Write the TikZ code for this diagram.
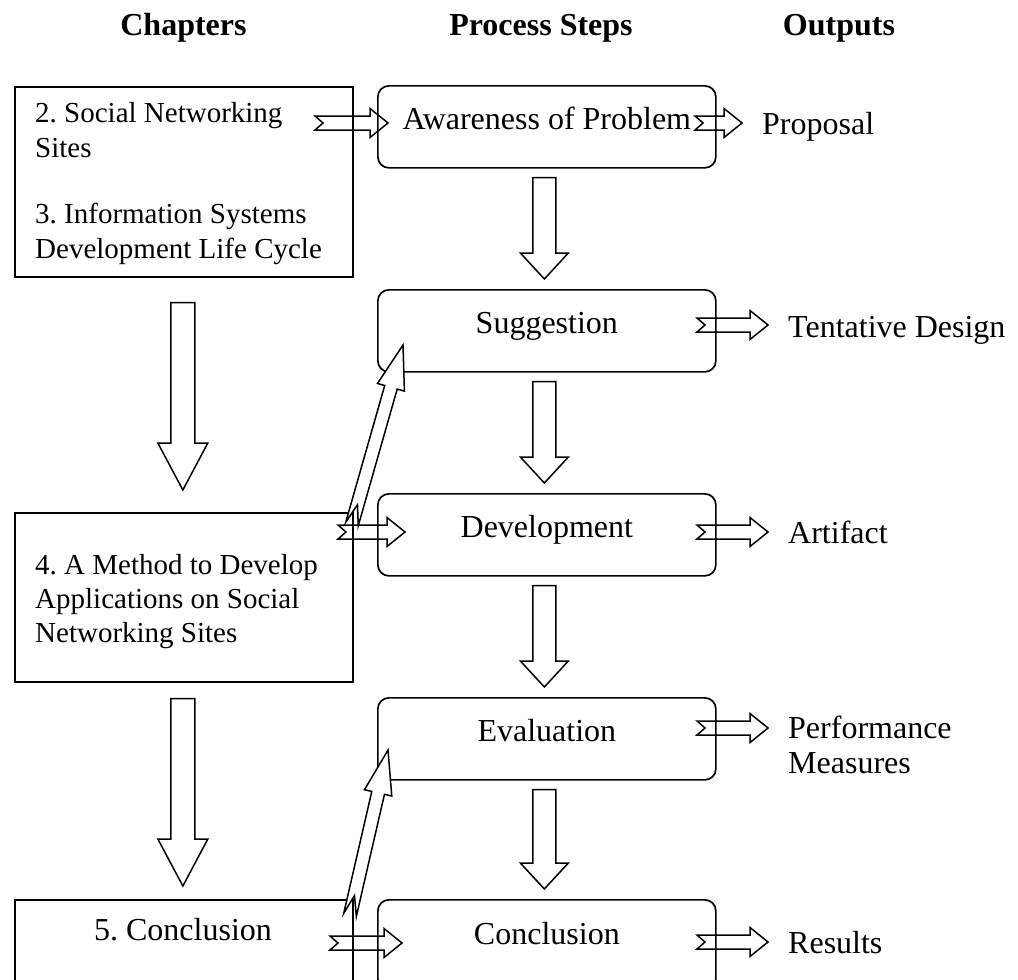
\documentclass[tikz,border=0pt]{standalone}
\usepackage{fontspec}
\setmainfont{Liberation Serif}
\usetikzlibrary{calc}
\frenchspacing

\pgfdeclarelayer{back}
\pgfsetlayers{back,main}

\tikzset{
  boxline/.style={line width=1.7pt},
  chapbox/.style={boxline, draw, rectangle, inner sep=0pt, anchor=north west, minimum width=338pt},
  stepbox/.style={boxline, draw, rectangle, rounded corners=11pt, inner sep=0pt, anchor=north west,
                  minimum width=338pt, minimum height=82pt},
  head/.style={anchor=base, font=\fontsize{32}{38}\selectfont\bfseries},
  chaptext/.style={anchor=base west, inner sep=0pt, font=\fontsize{29}{35}\selectfont},
  bigtext/.style={anchor=base, inner sep=0pt, font=\fontsize{32}{38}\selectfont},
  outtext/.style={anchor=base west, inner sep=0pt, font=\fontsize{32}{38}\selectfont},
  arrowline/.style={draw, fill=white, line width=1.5pt, line join=miter},
}

% Block arrow from #2 to #3: shaft half width #4, head half width #5,
% head length #6, tail notch depth #7
\newcommand{\blockarrow}[7][]{%
  \coordinate (ba-h) at ($(#3)!#6!(#2)$);
  \path[arrowline,#1]
    ($(#2)!#4!90:(#3)$) --
    ($(ba-h)!#4!90:(#3)$) --
    ($(ba-h)!#5!90:(#3)$) --
    (#3) --
    ($(ba-h)!#5!-90:(#3)$) --
    ($(ba-h)!#4!-90:(#3)$) --
    ($(#2)!#4!-90:(#3)$) --
    ($(#2)!#7!(#3)$) -- cycle;
}

\begin{document}
\begin{tikzpicture}[x=1pt, y=-1pt]
\useasboundingbox (0,0) rectangle (1018,980);
\clip (0,0) rectangle (1018,980);

% column headings
\node[head] (hchap) at (183.5,35) {Chapters};
\node[head] (hproc) at (541,35) {Process Steps};
\node[head] (hout)  at (839,35) {Outputs};

% chapter boxes
\node[chapbox, minimum height=190pt] (c1) at (14,86) {};
\node[chapbox, minimum height=169pt] (c2) at (14,512) {};
\node[chapbox, minimum height=110pt] (c3) at (14,899) {};

\node[chaptext] (c1l1) at (35,122) {2. Social Networking};
\node[chaptext] (c1l2) at (35,157) {Sites};
\node[chaptext] (c1l3) at (35,223) {3. Information Systems};
\node[chaptext] (c1l4) at (35,258) {Development Life Cycle};

\node[chaptext] (c2l1) at (35,574) {4. A Method to Develop};
\node[chaptext] (c2l2) at (35,608) {Applications on Social};
\node[chaptext] (c2l3) at (35,642) {Networking Sites};

\node[bigtext] (c3l1) at (183,940) {5. Conclusion};

% process step boxes
\node[stepbox] (s1) at (377,85)  {};
\node[stepbox] (s2) at (377,289) {};
\node[stepbox] (s3) at (377,493) {};
\node[stepbox] (s4) at (377,697) {};
\node[stepbox, minimum height=90pt] (s5) at (377,899) {};

\node[bigtext] (t1) at ($(s1.north)+(0,44)$) {Awareness of Problem};
\node[bigtext] (t2) at ($(s2.north)+(0,44)$) {Suggestion};
\node[bigtext] (t3) at ($(s3.north)+(0,44)$) {Development};
\node[bigtext] (t4) at ($(s4.north)+(0,44)$) {Evaluation};
\node[bigtext] (t5) at ($(s5.north)+(0,45)$) {Conclusion};

% outputs
\node[outtext] (o1) at (762,134) {Proposal};
\node[outtext] (o2) at (788,337) {Tentative Design};
\node[outtext] (o3) at (788,543) {Artifact};
\node[outtext] (o4a) at (788,738) {Performance};
\node[outtext] (o4b) at (788,773) {Measures};
\node[outtext] (o5) at (788,953) {Results};

% arrow end points
\coordinate (i1a) at (315,123); \coordinate (i1b) at (388,123);
\coordinate (i3a) at (338,532); \coordinate (i3b) at (405,532);
\coordinate (i5a) at (330,943); \coordinate (i5b) at (402,943);

\coordinate (o1a) at (695,123); \coordinate (o1b) at (742,123);
\coordinate (o2a) at (697,325); \coordinate (o2b) at (768,325);
\coordinate (o3a) at (697,532); \coordinate (o3b) at (768,532);
\coordinate (o4a') at (697,728); \coordinate (o4b') at (768,728);
\coordinate (o5a) at (697,942); \coordinate (o5b) at (768,942);

% horizontal arrows sit behind the box outlines
\begin{pgfonlayer}{back}
  \blockarrow{i1a}{i1b}{7pt}{14.5pt}{18pt}{8pt}
  \blockarrow{i3a}{i3b}{7pt}{14.5pt}{18pt}{8pt}
  \blockarrow{i5a}{i5b}{7pt}{14.5pt}{18pt}{8pt}
  \blockarrow{o1a}{o1b}{7pt}{14.5pt}{18pt}{8pt}
  \blockarrow{o2a}{o2b}{7pt}{14.5pt}{18pt}{8pt}
  \blockarrow{o3a}{o3b}{7pt}{14.5pt}{18pt}{8pt}
  \blockarrow{o4a'}{o4b'}{7pt}{14.5pt}{18pt}{8pt}
  \blockarrow{o5a}{o5b}{7pt}{14.5pt}{18pt}{8pt}
\end{pgfonlayer}

% downward arrows between process steps
\coordinate (d1a) at ($(s1.south)+(-2.5,9)$);  \coordinate (d1b) at ($(s2.north)+(-2.5,-10)$);
\coordinate (d2a) at ($(s2.south)+(-2.5,9)$);  \coordinate (d2b) at ($(s3.north)+(-2.5,-10)$);
\coordinate (d3a) at ($(s3.south)+(-2.5,9)$);  \coordinate (d3b) at ($(s4.north)+(-2.5,-10)$);
\coordinate (d4a) at ($(s4.south)+(-2.5,9)$);  \coordinate (d4b) at ($(s5.north)+(-2.5,-10)$);
\blockarrow{d1a}{d1b}{11.5pt}{24pt}{26pt}{0pt}
\blockarrow{d2a}{d2b}{11.5pt}{24pt}{26pt}{0pt}
\blockarrow{d3a}{d3b}{11.5pt}{24pt}{26pt}{0pt}
\blockarrow{d4a}{d4b}{11.5pt}{24pt}{26pt}{0pt}

% downward arrows between chapters
\coordinate (e1a) at ($(c1.south)+(-1,25)$);  \coordinate (e1b) at ($(c2.north)+(-1,-22)$);
\coordinate (e2a) at ($(c2.south)+(-1,16)$);  \coordinate (e2b) at ($(c3.north)+(-1,-13)$);
\blockarrow{e1a}{e1b}{12pt}{25pt}{47pt}{0pt}
\blockarrow{e2a}{e2b}{12pt}{25pt}{47pt}{0pt}

% slanted arrows feeding back into the process steps
\coordinate (g1a) at (352,524); \coordinate (g1b) at (403,345);
\coordinate (g2a) at (350,915); \coordinate (g2b) at (388,750);
\blockarrow{g1a}{g1b}{6.5pt}{14pt}{44pt}{20pt}
\blockarrow{g2a}{g2b}{6.5pt}{14pt}{44pt}{20pt}

\end{tikzpicture}
\end{document}
